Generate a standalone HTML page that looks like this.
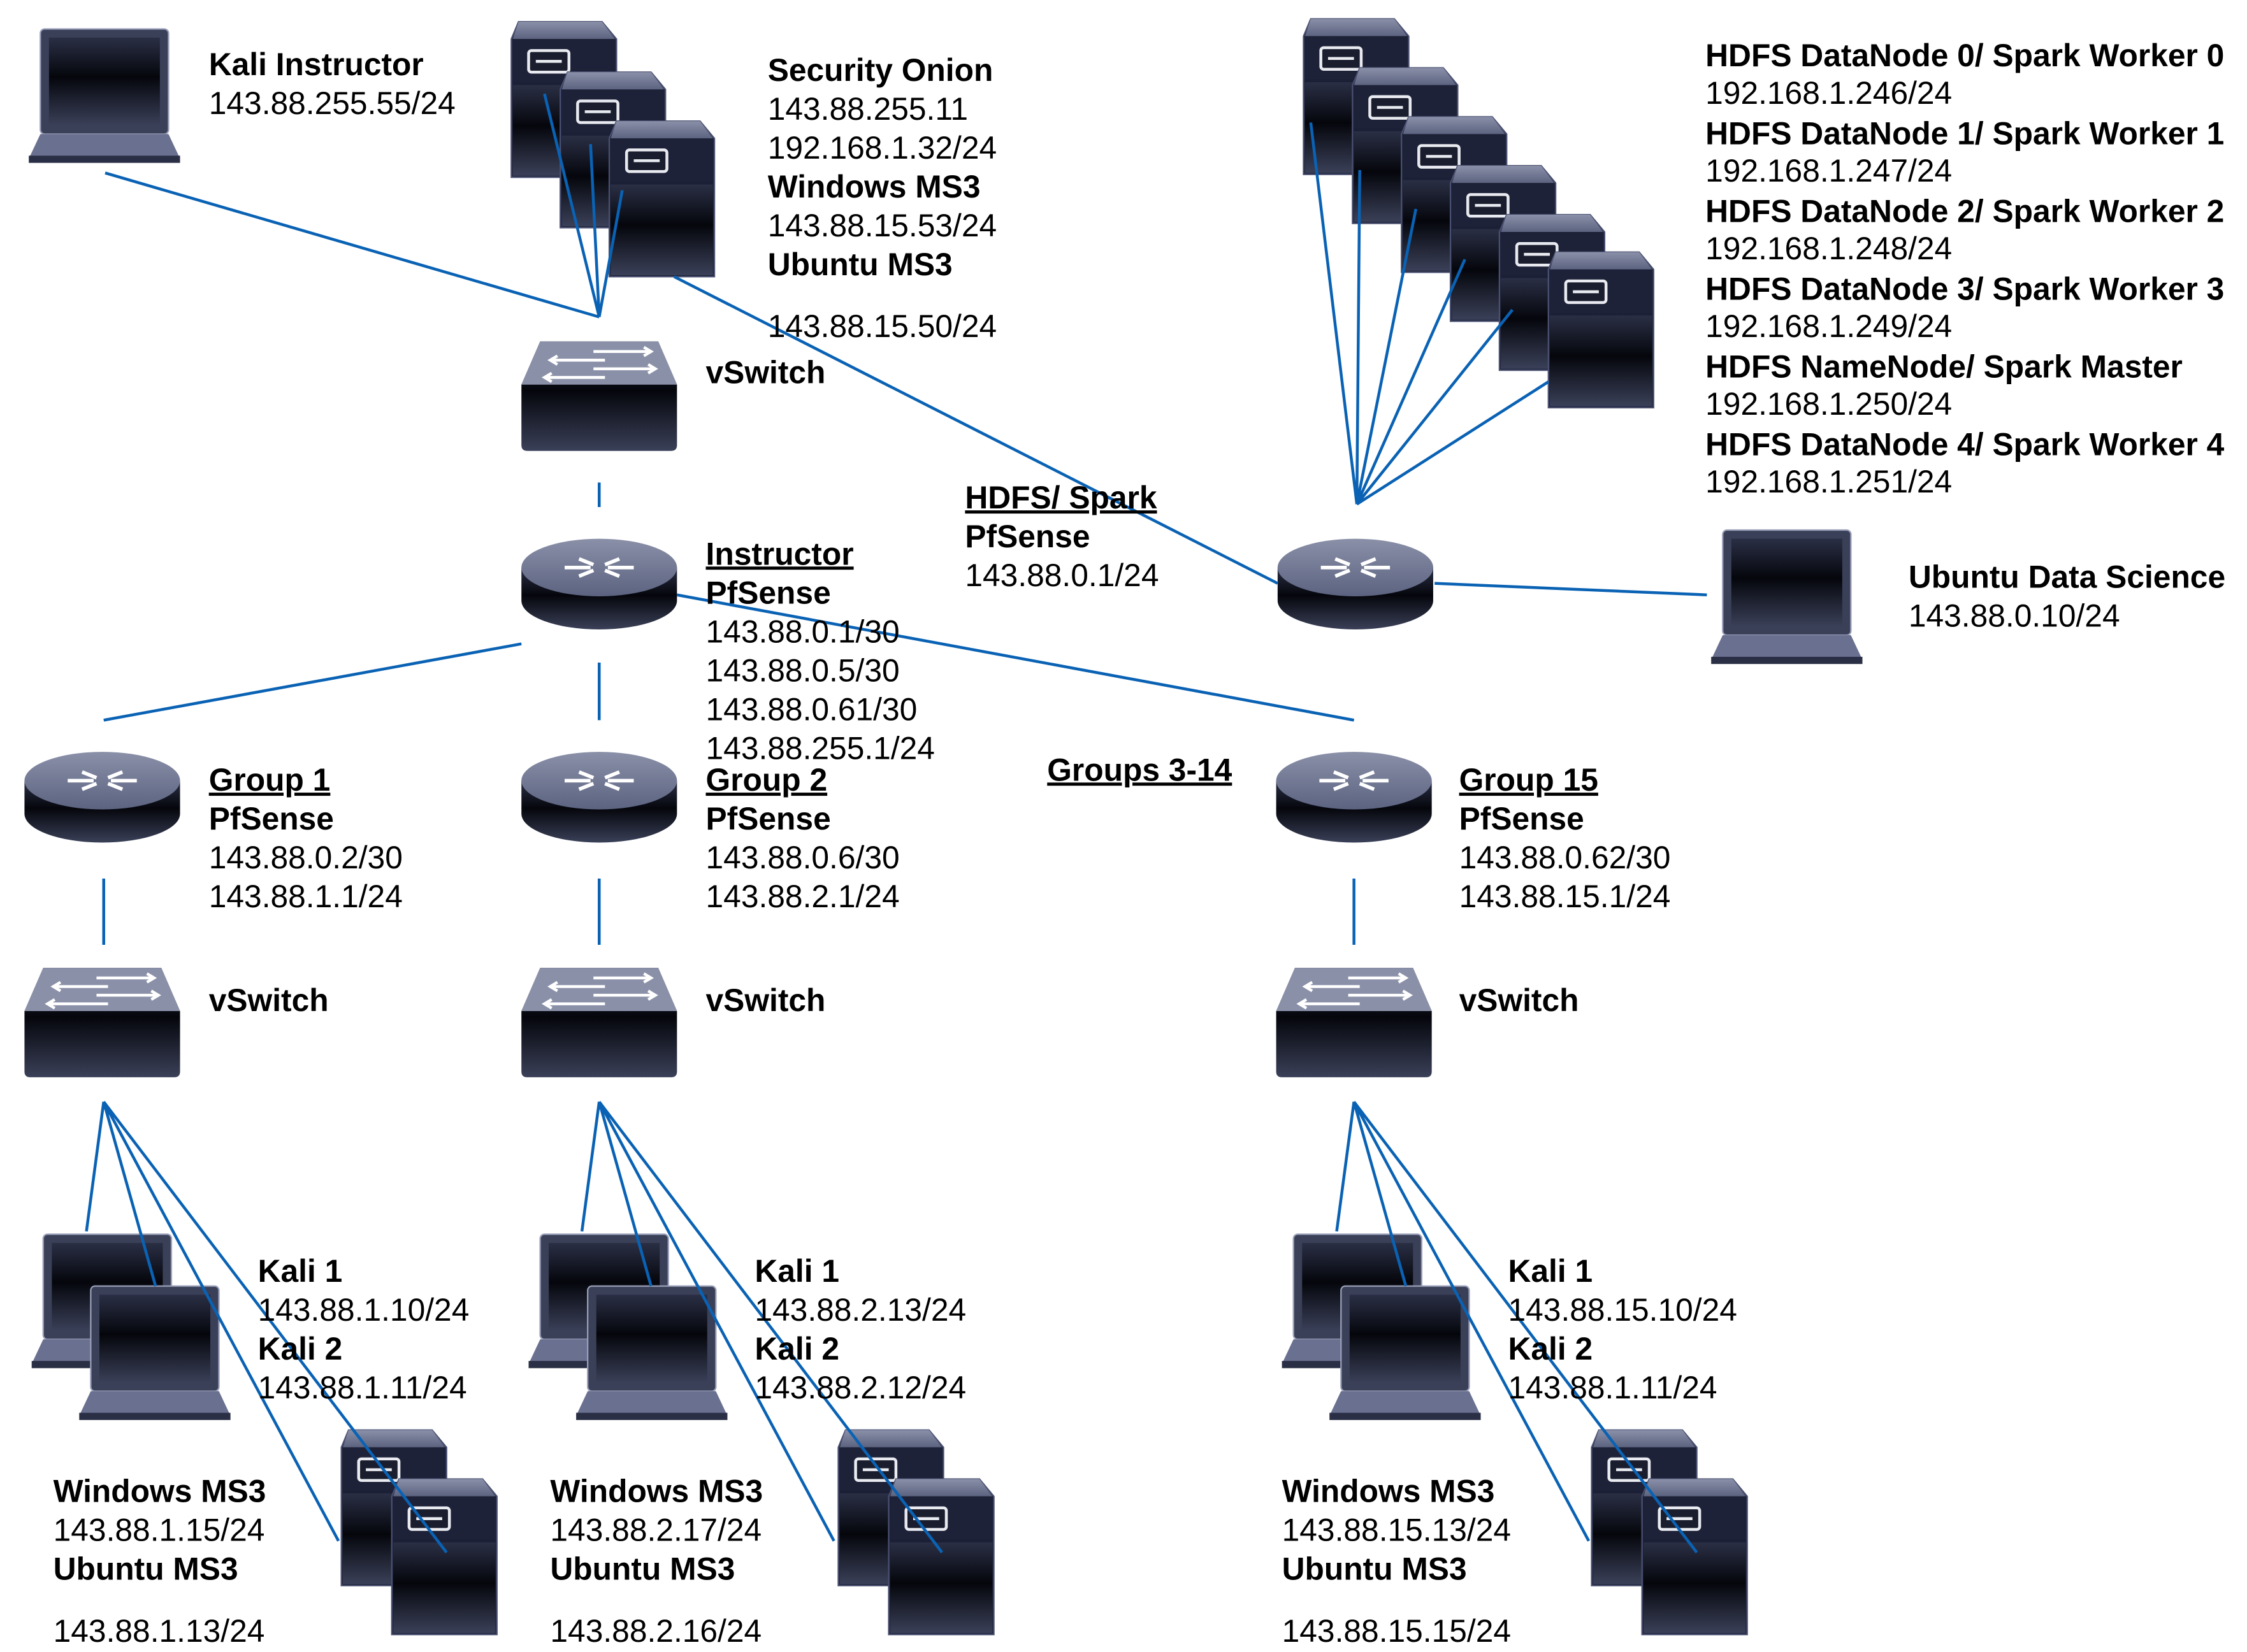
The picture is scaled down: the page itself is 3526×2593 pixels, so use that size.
<!DOCTYPE html>
<html><head><meta charset="utf-8">
<style>html,body{margin:0;padding:0;background:#fff}svg{display:block}
text{font-family:"Liberation Sans",Arial,sans-serif;font-size:22px;fill:#000}
.b{font-weight:bold}.u{font-weight:bold;text-decoration:underline}
</style></head><body>
<svg width="3526" height="2593" viewBox="0 0 1560 1147" xmlns="http://www.w3.org/2000/svg">
<defs>
<linearGradient id="body" x1="0" y1="0" x2="0" y2="1"><stop offset="0" stop-color="#2a2f45"/><stop offset="0.45" stop-color="#05060c"/><stop offset="1" stop-color="#3a4058"/></linearGradient>
<linearGradient id="top" x1="0" y1="0" x2="0" y2="1"><stop offset="0" stop-color="#8a90a8"/><stop offset="1" stop-color="#5c6380"/></linearGradient>
<g id="srv">
<path d="M5,0 H63 L73,12 V108 H0 V12 Z" fill="#1c2036" stroke="#4a5070"/>
<path d="M5,0 H63 L72,12 H1 Z" fill="url(#top)"/>
<rect x="1" y="12" width="71" height="30" fill="#1e2238"/>
<rect x="1" y="44" width="71" height="63" fill="url(#body)"/>
<rect x="12" y="20" width="28" height="15" rx="2" fill="#1a1d2e" stroke="#e8eaf0" stroke-width="2"/>
<line x1="17" y1="27.5" x2="35" y2="27.5" stroke="#e8eaf0" stroke-width="2"/>
</g>
<g id="rtr">
<path d="M0,22 V45 A54,20 0 0 0 108,45 V22 Z" fill="url(#body)"/>
<ellipse cx="54" cy="22" rx="54" ry="20" fill="url(#top)"/>
<g stroke="#fff" stroke-width="2.5" fill="none">
<path d="M40,16 L50,20 M40,28 L50,24 M68,16 L58,20 M68,28 L58,24 M30,22 H48 M60,22 H78"/>
</g>
</g>
<g id="sw">
<path d="M13,0 H95 L108,30 V72 Q108,76 104,76 H4 Q0,76 0,72 V30 Z" fill="url(#body)"/>
<path d="M13,0 H95 L108,30 H0 Z" fill="#8a90a8"/>
<g stroke="#fff" stroke-width="2" fill="none">
<path d="M50,7 H90 M85,4 L90,7 L85,10 M50,19 H93 M88,16 L93,19 L88,22 M58,13 H20 M25,10 L20,13 L25,16 M58,25 H16 M21,22 L16,25 L21,28"/>
</g>
</g>
<g id="lap">
<rect x="8" y="0" width="89" height="73" rx="3" fill="#3a4058" stroke="#9aa0b8"/>
<rect x="14" y="6" width="77" height="61" fill="url(#body)"/>
<path d="M8,73 H97 L105,90 H0 Z" fill="#6a7090"/>
<rect x="0" y="88" width="105" height="5" fill="#2a2f45"/>
</g>
</defs>

<use href="#lap" x="20" y="20"/>
<use href="#srv" x="355" y="15"/><use href="#srv" x="389" y="50"/><use href="#srv" x="423" y="84"/>
<use href="#sw" x="362" y="237"/>
<use href="#rtr" x="362" y="372"/>
<use href="#srv" x="905" y="13"/><use href="#srv" x="939" y="47"/><use href="#srv" x="973" y="81"/><use href="#srv" x="1007" y="115"/><use href="#srv" x="1041" y="149"/><use href="#srv" x="1075" y="175"/>
<use href="#rtr" x="887" y="372"/>
<use href="#lap" x="1188" y="368"/>
<use href="#rtr" x="17" y="520"/><use href="#rtr" x="362" y="520"/><use href="#rtr" x="886" y="520"/>
<use href="#sw" x="17" y="672"/><use href="#sw" x="362" y="672"/><use href="#sw" x="886" y="672"/>
<g id="grp">
<use href="#lap" x="22" y="857"/><use href="#lap" x="55" y="893"/>
<use href="#srv" x="237" y="993"/><use href="#srv" x="272" y="1027"/>
</g>
<use href="#grp" x="345" y="0"/><use href="#grp" x="868" y="0"/>

<g stroke="#0a62b4" stroke-width="2" fill="none">
<path d="M73,120 L416,220 M378,65 L416,220 L410,100 M416,220 L432,132 M468,192 L887,405"/>
<path d="M416,335 V352 M470,413 L940,500 M362,447 L72,500 M416,460 V500"/>
<path d="M72,610 V656 M416,610 V656 M940,610 V656"/>
<path d="M942,350 L910,85 M942,350 L944,118 M942,350 L983,145 M942,350 L1017,180 M942,350 L1050,215 M942,350 L1075,265 M996,405 L1185,413"/>
<g id="fan"><path d="M72,765 L60,855 M72,765 L108,893 M72,765 L235,1070 M72,765 L310,1078"/></g>
<use href="#fan" x="344"/><use href="#fan" x="868"/>
</g>

<text x="145" y="52" class="b">Kali Instructor</text><text x="145" y="79">143.88.255.55/24</text>
<text x="533" y="56" class="b">Security Onion</text><text x="533" y="83">143.88.255.11</text><text x="533" y="110">192.168.1.32/24</text>
<text x="533" y="137" class="b">Windows MS3</text><text x="533" y="164">143.88.15.53/24</text>
<text x="533" y="191" class="b">Ubuntu MS3</text><text x="533" y="234">143.88.15.50/24</text>
<text x="490" y="266" class="b">vSwitch</text>
<text x="670" y="353" class="u">HDFS/ Spark</text><text x="670" y="380" class="b">PfSense</text><text x="670" y="407">143.88.0.1/24</text>
<text x="490" y="392" class="u">Instructor</text><text x="490" y="419" class="b">PfSense</text>
<text x="490" y="446">143.88.0.1/30</text><text x="490" y="473">143.88.0.5/30</text><text x="490" y="500">143.88.0.61/30</text><text x="490" y="527">143.88.255.1/24</text>
<text x="727" y="542" class="u">Groups 3-14</text>
<text x="145" y="549" class="u">Group 1</text><text x="145" y="576" class="b">PfSense</text><text x="145" y="603">143.88.0.2/30</text><text x="145" y="630">143.88.1.1/24</text>
<text x="490" y="549" class="u">Group 2</text><text x="490" y="576" class="b">PfSense</text><text x="490" y="603">143.88.0.6/30</text><text x="490" y="630">143.88.2.1/24</text>
<text x="1013" y="549" class="u">Group 15</text><text x="1013" y="576" class="b">PfSense</text><text x="1013" y="603">143.88.0.62/30</text><text x="1013" y="630">143.88.15.1/24</text>
<text x="145" y="702" class="b">vSwitch</text><text x="490" y="702" class="b">vSwitch</text><text x="1013" y="702" class="b">vSwitch</text>
<text x="179" y="890" class="b">Kali 1</text><text x="179" y="917">143.88.1.10/24</text><text x="179" y="944" class="b">Kali 2</text><text x="179" y="971">143.88.1.11/24</text>
<text x="524" y="890" class="b">Kali 1</text><text x="524" y="917">143.88.2.13/24</text><text x="524" y="944" class="b">Kali 2</text><text x="524" y="971">143.88.2.12/24</text>
<text x="1047" y="890" class="b">Kali 1</text><text x="1047" y="917">143.88.15.10/24</text><text x="1047" y="944" class="b">Kali 2</text><text x="1047" y="971">143.88.1.11/24</text>
<text x="37" y="1043" class="b">Windows MS3</text><text x="37" y="1070">143.88.1.15/24</text><text x="37" y="1097" class="b">Ubuntu MS3</text><text x="37" y="1140">143.88.1.13/24</text>
<text x="382" y="1043" class="b">Windows MS3</text><text x="382" y="1070">143.88.2.17/24</text><text x="382" y="1097" class="b">Ubuntu MS3</text><text x="382" y="1140">143.88.2.16/24</text>
<text x="890" y="1043" class="b">Windows MS3</text><text x="890" y="1070">143.88.15.13/24</text><text x="890" y="1097" class="b">Ubuntu MS3</text><text x="890" y="1140">143.88.15.15/24</text>
<text x="1184" y="46" class="b">HDFS DataNode 0/ Spark Worker 0</text><text x="1184" y="72">192.168.1.246/24</text>
<text x="1184" y="100" class="b">HDFS DataNode 1/ Spark Worker 1</text><text x="1184" y="126">192.168.1.247/24</text>
<text x="1184" y="154" class="b">HDFS DataNode 2/ Spark Worker 2</text><text x="1184" y="180">192.168.1.248/24</text>
<text x="1184" y="208" class="b">HDFS DataNode 3/ Spark Worker 3</text><text x="1184" y="234">192.168.1.249/24</text>
<text x="1184" y="262" class="b">HDFS NameNode/ Spark Master</text><text x="1184" y="288">192.168.1.250/24</text>
<text x="1184" y="316" class="b">HDFS DataNode 4/ Spark Worker 4</text><text x="1184" y="342">192.168.1.251/24</text>
<text x="1325" y="408" class="b">Ubuntu Data Science</text><text x="1325" y="435">143.88.0.10/24</text>
</svg>
</body></html>
